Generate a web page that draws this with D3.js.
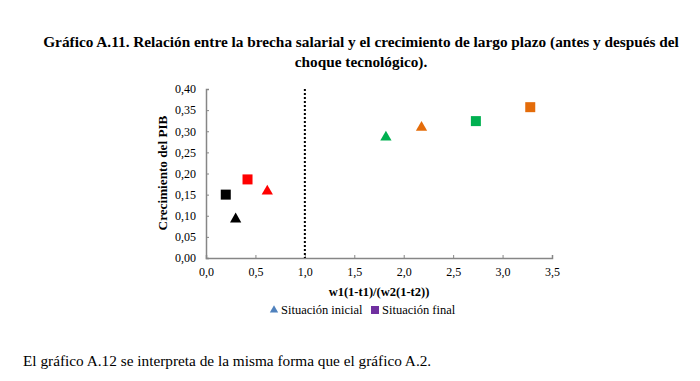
<!DOCTYPE html>
<html><head><meta charset="utf-8">
<script src="https://cdn.jsdelivr.net/npm/d3@7"></script>
<style>body{margin:0;background:#fff;} svg{display:block;} svg text{font-family:"Liberation Serif";}</style>
</head><body>
<svg id="c" width="700" height="381"></svg>
<script>
const titleLines = ["Gráfico A.11. Relación entre la brecha salarial y el crecimiento de largo plazo (antes y después del", "choque tecnológico)."];
const xLabel = "w1(1-t1)/(w2(1-t2))";
const yLabel = "Crecimiento del PIB";
const footText = "El gráfico A.12 se interpreta de la misma forma que el gráfico A.2.";
const xTicks = [0, 0.5, 1.0, 1.5, 2.0, 2.5, 3.0, 3.5];
const yTicks = [0, 0.05, 0.10, 0.15, 0.20, 0.25, 0.30, 0.35, 0.40];
const refLineX = 1.0;
// initial situation (triangles)
const initialX = [0.30, 0.62, 1.82, 2.18];
const initialY = [0.092, 0.158, 0.286, 0.309];
const initialColor = ["#000000", "#FF0000", "#00B050", "#E46C0A"];
// final situation (squares)
const finalX = [0.20, 0.42, 2.73, 3.28];
const finalY = [0.150, 0.186, 0.324, 0.357];
const finalColor = ["#000000", "#FF0000", "#00B050", "#E46C0A"];
const legendItems = ["Situación inicial", "Situación final"];
const legendColors = ["#4F81BD", "#7030A0"];

const svg = d3.select("#c");
const F = "Liberation Serif";
const x = d3.scaleLinear().domain([0, 3.5]).range([206, 552]);
const y = d3.scaleLinear().domain([0, 0.4]).range([258, 89]);
const fmt = (d, n) => d.toFixed(n).replace(".", ",");

svg.selectAll("text.title").data(titleLines).join("text")
  .attr("x", 361).attr("y", (d, i) => 47 + i * 20)
  .attr("text-anchor", "middle").attr("font-family", F)
  .attr("font-weight", "bold").attr("font-size", 15.3).attr("fill", "#000").text(d => d);

const axColor = "#868686";
// y axis
const ya = svg.append("g").attr("transform", `translate(${x(0)},0)`)
  .call(d3.axisLeft(y).tickValues(yTicks).tickSize(-3).tickPadding(10).tickFormat(d => fmt(d, 2)));
ya.attr("font-family", F);
ya.select(".domain").attr("stroke", axColor).attr("stroke-width", 1.5);
ya.selectAll(".tick line").attr("stroke", axColor);
ya.selectAll(".tick text").attr("font-family", F).attr("font-size", 12).attr("fill", "#000");
// x axis
const xa = svg.append("g").attr("transform", `translate(0,${y(0)})`)
  .call(d3.axisBottom(x).tickValues(xTicks).tickSize(-3).tickPadding(9).tickFormat(d => fmt(d, 1)));
xa.attr("font-family", F);
xa.select(".domain").attr("stroke", axColor).attr("stroke-width", 1.5);
xa.selectAll(".tick line").attr("stroke", axColor);
xa.selectAll(".tick text").attr("font-family", F).attr("font-size", 12).attr("fill", "#000");

// reference dotted line
svg.append("line").attr("x1", x(refLineX)).attr("x2", x(refLineX))
  .attr("y1", y(0.4)).attr("y2", y(0))
  .attr("stroke", "#000").attr("stroke-width", 2).attr("stroke-dasharray", "2,2");

const tri = d3.symbol().type(d3.symbolTriangle).size(55);
svg.selectAll("path.ini").data(initialX).join("path")
  .attr("transform", (d, i) => `translate(${x(d)},${y(initialY[i])})`)
  .attr("d", tri).attr("fill", (d, i) => initialColor[i]);
svg.selectAll("rect.fin").data(finalX).join("rect")
  .attr("x", d => x(d) - 5).attr("y", (d, i) => y(finalY[i]) - 5)
  .attr("width", 10).attr("height", 10).attr("fill", (d, i) => finalColor[i]);

svg.append("text").attr("x", 379).attr("y", 296).attr("text-anchor", "middle").attr("font-family", F)
  .attr("font-weight", "bold").attr("font-size", 12.5).text(xLabel);
svg.append("text").attr("transform", "translate(167,173) rotate(-90)").attr("text-anchor", "middle").attr("font-family", F)
  .attr("font-weight", "bold").attr("font-size", 13.2).text(yLabel);

// legend
const lg = svg.append("g");
lg.append("path").attr("transform", "translate(274,310)").attr("d", d3.symbol().type(d3.symbolTriangle).size(30)).attr("fill", legendColors[0]);
lg.append("text").attr("x", 281).attr("y", 314).attr("font-family", F).attr("font-size", 12.5).text(legendItems[0]);
lg.append("rect").attr("x", 371).attr("y", 306).attr("width", 8).attr("height", 8).attr("fill", legendColors[1]);
lg.append("text").attr("x", 382).attr("y", 314).attr("font-family", F).attr("font-size", 12.5).text(legendItems[1]);

svg.append("text").attr("x", 23).attr("y", 366).attr("font-family", F).attr("font-size", 15.3).text(footText);
</script>
</body></html>
